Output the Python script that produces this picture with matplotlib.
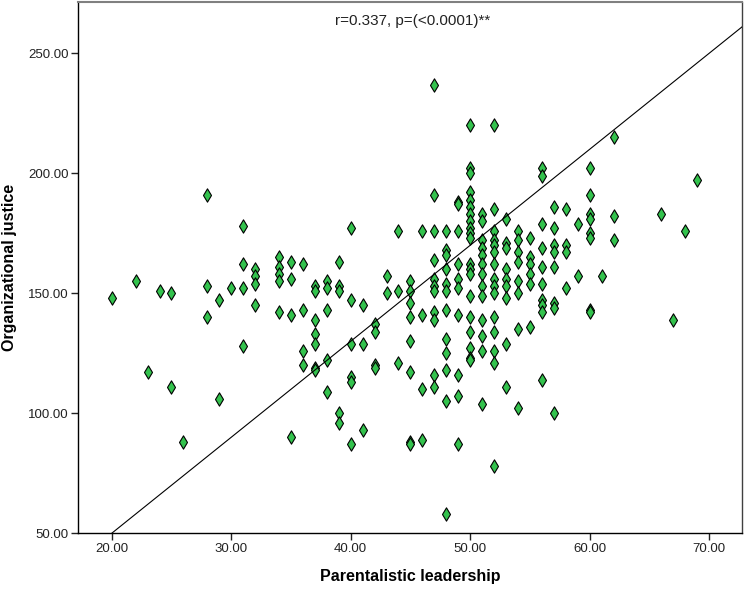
import matplotlib
matplotlib.use('Agg')
import matplotlib.pyplot as plt
import numpy as np
from matplotlib.ticker import FormatStrFormatter

plt.rcParams['font.family'] = ['Liberation Sans', 'DejaVu Sans']

# scatter data (one line per group of x values)
leadership = [
    20, 22, 23, 24, 25, 25, 26, 28, 28, 28, 29, 29, 30,
    31, 31, 31, 31, 32, 32, 32, 32,
    34, 34, 34, 34, 34, 35, 35, 35, 35, 36, 36, 36, 36,
    37, 37, 37, 37, 37, 37, 37, 38, 38, 38, 38, 38,
    39, 39, 39, 39, 39, 40, 40, 40, 40, 40, 40,
    41, 41, 41, 42, 42, 42, 42, 43, 43, 44, 44, 44,
    45, 45, 45, 45, 45, 45, 45, 45, 46, 46, 46, 46,
    47, 47, 47, 47, 47, 47, 47, 47, 47, 47, 47,
    48, 48, 48, 48, 48, 48, 48, 48, 48, 48, 48, 48,
    49, 49, 49, 49, 49, 49, 49, 49, 49, 49,
    50, 50, 50, 50, 50, 50, 50, 50, 50, 50, 50, 50, 50, 50, 50, 50, 50, 50, 50, 50,
    51, 51, 51, 51, 51, 51, 51, 51, 51, 51, 51, 51, 51,
    52, 52, 52, 52, 52, 52, 52, 52, 52, 52, 52, 52, 52, 52, 52,
    53, 53, 53, 53, 53, 53, 53, 53, 53,
    54, 54, 54, 54, 54, 54, 54, 54,
    55, 55, 55, 55, 55, 55,
    56, 56, 56, 56, 56, 56, 56, 56, 56, 56,
    57, 57, 57, 57, 57, 57, 57, 57,
    58, 58, 58, 58, 59, 59,
    60, 60, 60, 60, 60, 60, 60, 60, 61, 62, 62, 62, 66, 67, 68, 69,
]
justice = [
    148, 155, 117, 151, 150, 111, 88, 191, 153, 140, 147, 106, 152,
    178, 162, 152, 128, 160, 157, 154, 145,
    165, 161, 158, 155, 142, 163, 156, 141, 90, 162, 143, 126, 120,
    153, 151, 139, 133, 129, 119, 118, 155, 152, 143, 122, 109,
    163, 153, 151, 100, 96, 177, 147, 129, 115, 113, 87,
    145, 129, 93, 137, 134, 120, 119, 157, 150, 176, 151, 121,
    155, 151, 146, 140, 130, 117, 88, 87, 176, 141, 110, 89,
    237, 191, 176, 164, 156, 153, 151, 142, 139, 116, 111,
    176, 168, 166, 160, 154, 151, 143, 131, 125, 118, 105, 58,
    188, 187, 176, 162, 156, 152, 141, 116, 107, 87,
    220, 202, 200, 192, 189, 186, 183, 180, 177, 175, 173, 162, 160, 158, 149, 140, 134, 127, 123, 122,
    183, 180, 172, 169, 166, 162, 158, 153, 149, 139, 132, 126, 104,
    220, 185, 176, 172, 170, 167, 162, 156, 153, 150, 140, 134, 126, 121, 78,
    181, 171, 169, 160, 156, 153, 148, 129, 111,
    176, 172, 167, 163, 155, 150, 135, 102,
    173, 165, 162, 158, 154, 136,
    202, 199, 179, 169, 161, 154, 147, 145, 142, 114,
    186, 177, 170, 167, 161, 146, 144, 100,
    185, 170, 167, 152, 179, 157,
    202, 191, 183, 181, 175, 173, 143, 142, 157, 215, 182, 172, 183, 139, 176, 197,
]
assert len(leadership) == len(justice)

# fit line as drawn in the picture
fit_slope = 4.0
fit_intercept = -30.0
fit_start = 20.0

x_ticks = [20, 30, 40, 50, 60, 70]
y_ticks = [50, 100, 150, 200, 250]
x_lim = (17.2, 72.75)
y_lim = (50, 271.5)

fig = plt.figure(figsize=(7.44, 5.89), dpi=100)
ax = fig.add_axes([0.1052, 0.0946, 0.8921, 0.9025])

ax.scatter(leadership, justice, marker='d', s=46, facecolor='#33c24d',
           edgecolor='black', linewidth=0.8, zorder=3)

xs = np.array([fit_start, x_lim[1]])
ax.plot(xs, fit_intercept + fit_slope * xs, color='black', lw=0.8, zorder=4)

ax.text(45.2, 263.3, 'r=0.337, p=(<0.0001)**', ha='center', va='center',
        fontsize=11, color='#222222')

ax.set_xlim(*x_lim)
ax.set_ylim(*y_lim)
ax.set_xticks(x_ticks)
ax.set_yticks(y_ticks)
ax.xaxis.set_major_formatter(FormatStrFormatter('%.2f'))
ax.yaxis.set_major_formatter(FormatStrFormatter('%.2f'))
ax.tick_params(direction='out', length=5, width=1, labelsize=9.5,
               colors='#222222', pad=2)

for s in ['left', 'bottom']:
    ax.spines[s].set_color('black')
    ax.spines[s].set_linewidth(1)
ax.spines['top'].set_color('#808080')
ax.spines['top'].set_linewidth(1.5)
ax.spines['right'].set_color('#404040')
ax.spines['right'].set_linewidth(1)

ax.set_xlabel('Parentalistic leadership', fontsize=11.5, fontweight='bold')
ax.set_ylabel('Organizational justice', fontsize=11.5, fontweight='bold')
ax.xaxis.set_label_coords(0.5, -0.068)
ax.yaxis.set_label_coords(-0.092, 0.5)

fig.savefig('out.png', dpi=100)
